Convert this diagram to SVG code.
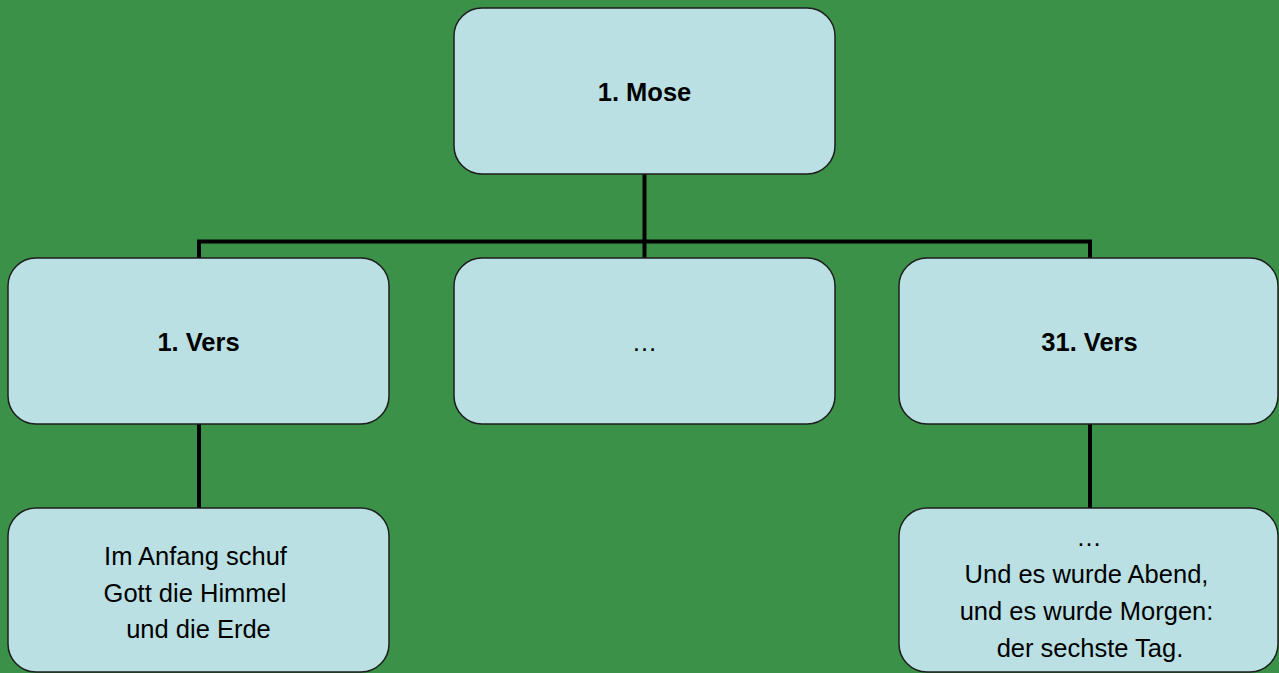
<svg xmlns="http://www.w3.org/2000/svg" width="1279" height="673" viewBox="0 0 1279 673">
<style>
.box{fill:#bae0e3;stroke:#1e1e1e;stroke-width:1.5}
.t{font-family:"Liberation Sans",Arial,sans-serif;font-size:25.5px;fill:#000;text-anchor:middle}
.b{font-weight:bold}
.c{stroke:#000;stroke-width:4;fill:none}
</style>
<rect width="1279" height="673" fill="#3a9147"/>
<g id="connectors">
<line class="c" x1="644.5" y1="174" x2="644.5" y2="258"/>
<polyline class="c" points="199,258 199,241.5 1090,241.5 1090,258"/>
<line class="c" x1="199" y1="424" x2="199" y2="508"/>
<line class="c" x1="1090" y1="424" x2="1090" y2="508"/>
</g>
<g id="n-mose">
<rect class="box" x="454" y="8" width="381" height="166" rx="28"/>
<text class="t b" x="644.5" y="101">1. Mose</text>
</g>
<g id="n-vers1">
<rect class="box" x="8" y="258" width="381" height="166" rx="28"/>
<text class="t b" x="198.5" y="351">1. Vers</text>
</g>
<g id="n-mid">
<rect class="box" x="454" y="258" width="381" height="166" rx="28"/>
<text class="t" x="644.5" y="351">…</text>
</g>
<g id="n-vers31">
<rect class="box" x="899" y="258" width="379" height="166" rx="28"/>
<text class="t b" x="1089.5" y="351">31. Vers</text>
</g>
<g id="n-text1">
<rect class="box" x="8" y="508" width="381" height="164" rx="28"/>
<text class="t" x="195.5" y="565">Im Anfang schuf</text>
<text class="t" x="195" y="602">Gott die Himmel</text>
<text class="t" x="198.5" y="638">und die Erde</text>
</g>
<g id="n-text31">
<rect class="box" x="899" y="508" width="379" height="164" rx="28"/>
<text class="t" x="1089" y="546">…</text>
<text class="t" x="1086.5" y="583">Und es wurde Abend,</text>
<text class="t" x="1086.5" y="620">und es wurde Morgen:</text>
<text class="t" x="1090" y="657">der sechste Tag.</text>
</g>
</svg>
